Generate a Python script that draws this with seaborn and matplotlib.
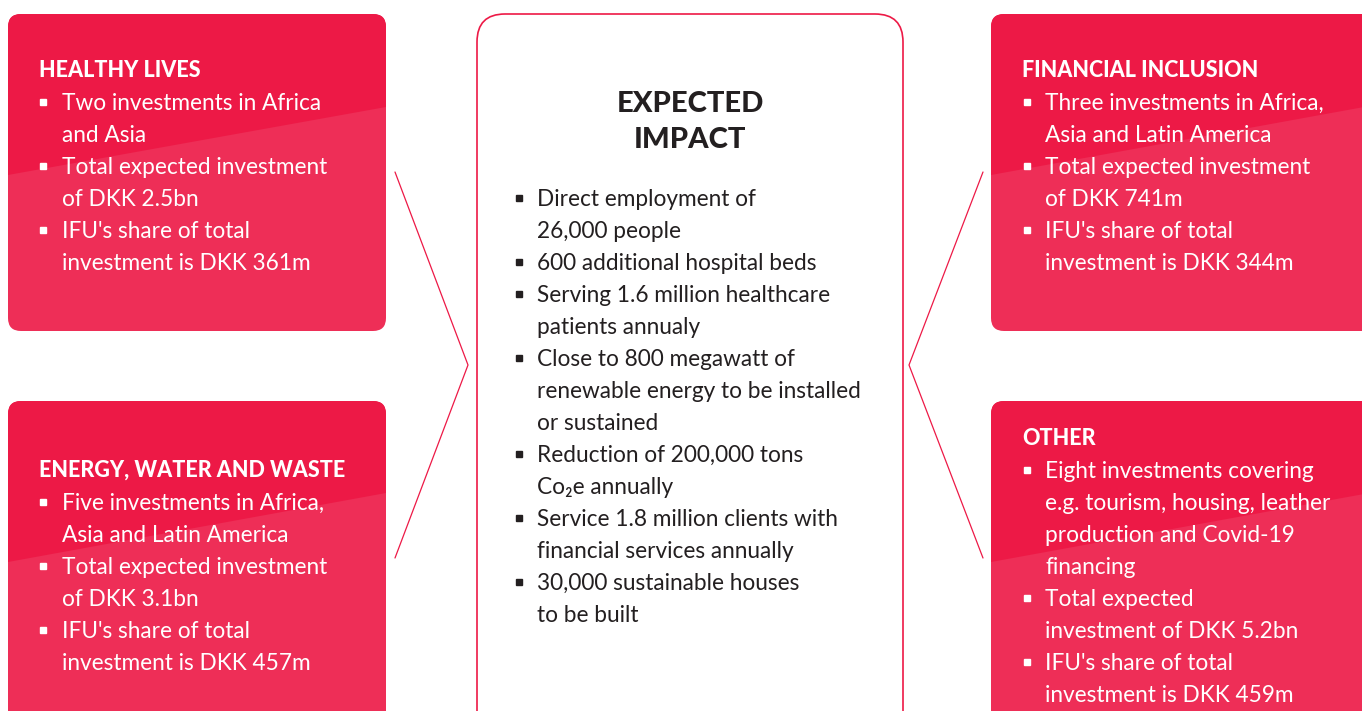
# Infographic: expected impact of IFU investments, four sector panels around a centre box

import matplotlib
matplotlib.use("Agg")
import matplotlib.pyplot as plt
from matplotlib.patches import FancyBboxPatch, Polygon
import seaborn as sns

# ---- content ----
panel_titles = ["HEALTHY LIVES", "ENERGY, WATER AND WASTE",
                "FINANCIAL INCLUSION", "OTHER"]

healthy_lives = [["Two investments in Africa", "and Asia"],
                 ["Total expected investment", "of DKK 2.5bn"],
                 ["IFU's share of total", "investment is DKK 361m"]]

energy_water_waste = [["Five investments in Africa,", "Asia and Latin America"],
                      ["Total expected investment", "of DKK 3.1bn"],
                      ["IFU's share of total", "investment is DKK 457m"]]

financial_inclusion = [["Three investments in Africa,", "Asia and Latin America"],
                       ["Total expected investment", "of DKK 741m"],
                       ["IFU's share of total", "investment is DKK 344m"]]

other = [["Eight investments covering", "e.g. tourism, housing, leather",
          "production and Covid-19", "financing"],
         ["Total expected", "investment of DKK 5.2bn"],
         ["IFU's share of total", "investment is DKK 459m"]]

centre_title = ["EXPECTED", "IMPACT"]
centre_items = [["Direct employment of", "26,000 people"],
                ["600 additional hospital beds"],
                ["Serving 1.6 million healthcare", "patients annualy"],
                ["Close to 800 megawatt of", "renewable energy to be installed",
                 "or sustained"],
                ["Reduction of 200,000 tons", "Co\u2082e annually"],
                ["Service 1.8 million clients with",
                 "financial services annually"],
                ["30,000 sustainable houses", "to be built"]]

# ---- style ----
RED_DARK = "#ED1946"
RED_LIGHT = "#EE2E57"
INK = "#231F20"
W, H = 1362, 711
LINE = 32
BODY_SIZE = 16.3
BODY = ["Lato", "DejaVu Sans"]

sns.set_theme(style="white")
plt.rcParams["font.family"] = BODY

fig = plt.figure(figsize=(W / 100, H / 100), dpi=100)
ax = fig.add_axes([0, 0, 1, 1])
ax.set_xlim(0, W)
ax.set_ylim(H, 0)
ax.axis("off")


def red_panel(x0, y0, x1, y1, split_left, split_right):
    box = FancyBboxPatch((x0, y0), x1 - x0, y1 - y0,
                         boxstyle="round,pad=0,rounding_size=13",
                         fc=RED_LIGHT, ec="none", zorder=1)
    ax.add_patch(box)
    top = Polygon([(x0, y0), (x1, y0), (x1, split_right), (x0, split_left)],
                  closed=True, fc=RED_DARK, ec="none", zorder=2)
    ax.add_patch(top)
    top.set_clip_path(box)


def bullet_block(x_bullet, x_text, y_first, items, color, size):
    y = y_first
    for item in items:
        ax.plot(x_bullet, y - 8, marker="s", ms=4.5, color=color,
                ls="none", zorder=5)
        for line in item:
            ax.text(x_text, y, line, color=color, fontsize=size,
                    ha="left", va="baseline", zorder=5)
            y += LINE


# panels: (box, split, title x/baseline, bullet x, text x)
panels = [
    ((8, 14, 386, 331), (175, 107), (39, 77), 43, 62, healthy_lives),
    ((8, 401, 386, 740), (562, 493), (39, 477), 43, 62, energy_water_waste),
    ((991, 14, 1375, 331), (175, 105), (1022, 77), 1027, 1045,
     financial_inclusion),
    ((991, 401, 1375, 740), (562, 492), (1022, 445), 1027, 1045, other),
]

for (box, split, tpos, xb, xt, items), title in zip(panels, panel_titles):
    red_panel(box[0], box[1], box[2], box[3], split[0], split[1])
    ax.text(tpos[0], tpos[1], title, color="white", fontsize=15.5,
            fontweight="black", ha="left", va="baseline", zorder=5)
    bullet_block(xb, xt, tpos[1] + LINE + 1, items, "white", BODY_SIZE)

# centre box
centre = FancyBboxPatch((477, 14), 426, 760,
                        boxstyle="round,pad=0,rounding_size=28",
                        fc="white", ec=RED_DARK, lw=1.2, zorder=1)
ax.add_patch(centre)
for i, t in enumerate(centre_title):
    ax.text(690, 112 + i * 36, t, color=INK, fontsize=21, fontweight="black",
            ha="center", va="baseline", zorder=5)
bullet_block(519, 537, 206, centre_items, INK, BODY_SIZE)

# chevron connectors
ax.plot([395, 468, 395], [172, 365, 558], color=RED_DARK, lw=0.9, zorder=3)
ax.plot([983, 909, 983], [172, 365, 558], color=RED_DARK, lw=0.9, zorder=3)

fig.savefig("out.png", dpi=100, facecolor="white")
plt.close(fig)
